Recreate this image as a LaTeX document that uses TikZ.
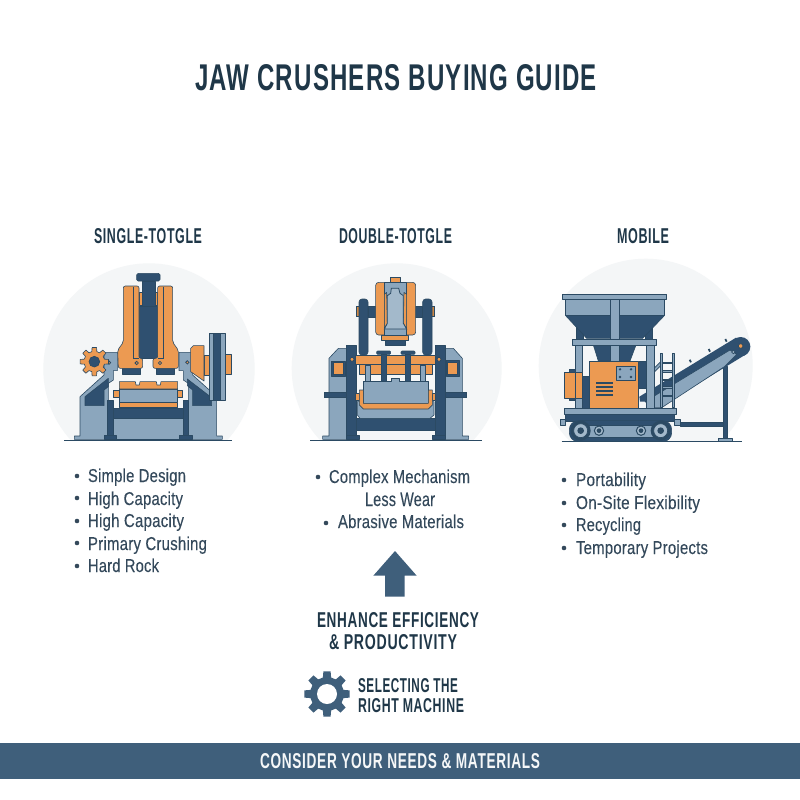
\documentclass[tikz,border=0pt]{standalone}
\usepackage{fontspec}
\usepackage{graphicx}
\setmainfont{Liberation Sans}
\newfontfamily\headf[LetterSpace=5]{Liberation Sans Bold}
\newfontfamily\bodyf[LetterSpace=1.5,FakeBold=0.15]{Liberation Sans}
\definecolor{ink}{HTML}{1F3748}
\definecolor{bodyc}{HTML}{34495B}
\definecolor{barc}{HTML}{3F5F7B}
\definecolor{steel}{HTML}{8BA6BD}
\definecolor{lsteel}{HTML}{A3B9CB}
\definecolor{dkb}{HTML}{2F5070}
\definecolor{orng}{HTML}{EC9A52}
\definecolor{edge}{HTML}{2B4A63}
\definecolor{disc}{HTML}{F4F6F7}
\tikzset{
  st/.style={fill=steel,draw=edge,line width=.6pt,line join=round},
  dk/.style={fill=dkb,draw=edge,line width=.6pt,line join=round},
  og/.style={fill=orng,draw=edge,line width=.6pt,line join=round},
  gnd/.style={draw=edge,line width=1pt},
  hd/.style={inner sep=0pt,outer sep=0pt,anchor=base west,text=ink},
  bd/.style={inner sep=0pt,outer sep=0pt,anchor=base west,text=bodyc},
  dot/.style={fill=bodyc,draw=none},
  zoomA/.style={xshift=30pt,yshift=-255pt,x=.33333pt,y=-.33333pt},
  zoomB/.style={xshift=280pt,yshift=-255pt,x=.33333pt,y=-.33333pt},
  zoomC/.style={xshift=530pt,yshift=-255pt,x=.33333pt,y=-.33333pt},
}
\newcommand{\hfit}[3]{\resizebox{#1pt}{#2pt}{\headf #3}}
\newcommand{\bfit}[2]{\resizebox{#1pt}{13.5pt}{\bodyf #2}}
\newcommand{\mygear}[5]{\begin{scope}[shift={(#2,#3)}]
\path[#1] (-14:#5) \foreach \a in {0,45,...,315}{ -- ({\a-14}:#5) -- ({\a-9}:#4) -- ({\a+9}:#4) -- ({\a+14}:#5)} -- cycle;
\end{scope}}
\begin{document}
\begin{tikzpicture}[x=1pt,y=-1pt]
\useasboundingbox (0,0) rectangle (800,800);
\fill[white] (0,0) rectangle (800,800);
% ---- discs
\begin{scope}
\clip (0,0) rectangle (800,440);
\fill[disc] (149,369) circle (105.7);
\fill[disc] (396.7,368.3) circle (105);
\fill[disc] (645.7,365.7) circle (107);
\end{scope}
% ---- machine 1
\begin{scope}[zoomA]
\path[st] (235,460) rectangle (475,553);
\path[st] (133,553)--(133,543)--(150,543)--(150,425)--(222,360)--(222,292)--(262,292)--(262,347)--(250,347)--(250,375)--(235,385)--(235,553)--cycle;
\path[st] (577,553)--(577,543)--(560,543)--(560,425)--(488,360)--(488,292)--(447,292)--(447,347)--(460,347)--(460,375)--(475,385)--(475,553)--cycle;
\path[dk] (165,425)--(235,370)--(235,395)--(222,405)--(222,452)--(165,452)--cycle;
\path[dk] (545,428)--(472,372)--(472,392)--(488,405)--(488,452)--(545,452)--cycle;
\path[dk] (233,437) rectangle (250,542);
\path[dk] (460,437) rectangle (476,542);
\path[dk] (222,542) rectangle (260,553);
\path[dk] (448,542) rectangle (488,553);
\path[dk] (250,460) rectangle (460,490);
\path[og] (250,405) rectangle (268,428);
\path[og] (443,405) rectangle (458,428);
\path[st] (268,402) rectangle (443,442);
\path[og] (268,442) rectangle (443,458);
\path[og] (268,380)--(316,380)--(318,390)--(328,390)--(330,380)--(379,380)--(381,390)--(391,390)--(393,380)--(443,380)--(443,402)--(268,402)--cycle;
\path[og] (522,300) rectangle (540,362);
\path[og] (586,298) rectangle (604,358);
\path[og] (482,280)--(490,272)--(522,272)--(522,378)--(482,350)--cycle;
\path[st] (538,235) rectangle (586,435);
\path[dk] (550,235) rectangle (572,435);
\path[dk] (278,340) rectangle (332,358);
\path[dk] (380,340) rectangle (432,358);
\path[og] (327,112) rectangle (337,150);
\path[og] (375,112) rectangle (383,150);
\path[dk] (327,155) rectangle (383,310);
\path[dk] (337,78) rectangle (375,155);
\path[dk,rounded corners=1.5pt] (320,55) rectangle (390,78);
\path[og,rounded corners=2pt] (280,262)--(280,93)--(327,93)--(327,310)--(338,310)--(338,340)--(265,340)--(263,285)--cycle;
\path[og,rounded corners=2pt] (428,262)--(428,93)--(383,93)--(383,310)--(369,310)--(369,340)--(445,340)--(445,285)--cycle;
\draw[edge,line width=.6pt] (310,95)--(310,310)--(327,310);
\draw[edge,line width=.6pt] (400,95)--(400,310)--(383,310);
\foreach \p in {(320,324),(390,324),(237,323),(472,322)} \draw[fill=orng,draw=edge,line width=.8pt] \p circle (5);
\mygear{og}{193}{320}{43}{31}
\fill[dkb,draw=edge,line width=.7pt] (193,320) circle (16);
\draw[gnd] (103,555)--(605,555);
\end{scope}
% ---- machine 2
\begin{scope}[zoomB]
\path[st] (128,553)--(128,543)--(147,543)--(147,310)--(175,280)--(205,280)--(205,553)--cycle;
\path[st] (566,553)--(566,543)--(547,543)--(547,310)--(520,280)--(490,280)--(490,553)--cycle;
\path[dk] (155,318) rectangle (195,365);
\path[og] (160,323) rectangle (190,358);
\path[dk] (498,316) rectangle (538,364);
\path[og] (503,322) rectangle (533,358);
\path[dk] (133,412) rectangle (210,428);
\path[dk] (485,412) rectangle (560,428);
\path[dk] (228,490) rectangle (466,525);
\path[dk] (200,270) rectangle (228,541);
\path[dk] (466,270) rectangle (495,541);
\path[dk] (198,541) rectangle (238,553);
\path[dk] (456,541) rectangle (497,553);
\path[fill=brown!70!orng,draw=edge,line width=.7pt] (228,155) rectangle (240,185);
\path[fill=brown!70!orng,draw=edge,line width=.7pt] (453,155) rectangle (463,185);
\path[dk,rounded corners=3pt] (237,300)--(237,132)--(264,132)--(264,300)--cycle;
\path[dk,rounded corners=3pt] (428,300)--(428,132)--(456,132)--(456,300)--cycle;
\path[dk] (264,155) rectangle (290,188);
\path[dk] (405,155) rectangle (428,188);
\path[dk] (315,255) rectangle (375,270);
\path[og] (305,240) rectangle (385,255);
\path[og] (332,67) rectangle (362,82);
\path[og,rounded corners=3pt] (287,82) rectangle (407,240);
\path[st] (313,82)--(380,82)--(380,240)--(313,240)--cycle;
\path[og] (313,118)--(320,112)--(322,205)--(313,222)--cycle;
\path[og] (380,118)--(372,112)--(370,205)--(380,222)--cycle;
\draw[edge,line width=.8pt,fill=lsteel] (322,205)--(322,122)--(332,115)--(334,100)--(356,100)--(360,115)--(370,122)--(370,205)--(380,222)--(313,222)--cycle;
\path[og] (237,328) rectangle (457,358);
\path[og] (225,300) rectangle (467,328);
\path[st] (255,330) rectangle (272,380);
\path[st] (422,330) rectangle (437,380);
\path[dk,rounded corners=1pt] (290,288) rectangle (332,298);
\path[dk,rounded corners=1pt] (363,288) rectangle (405,298);
\path[dk] (303,298) rectangle (320,380);
\path[dk] (375,298) rectangle (390,380);
\path[og] (227,415) rectangle (238,437);
\path[og] (457,415) rectangle (467,437);
\path[st] (232,440)--(462,440)--(462,480)--(450,490)--(240,490)--(232,480)--cycle;
\path[st] (250,380)--(335,380)--(335,370)--(357,370)--(357,380)--(445,380)--(445,445)--(250,445)--cycle;
\path[og] (238,405)--(250,405)--(250,445)--(445,445)--(445,405)--(457,405)--(457,450)--(445,462)--(250,462)--(238,450)--cycle;
\foreach \p in {(216,313),(477,313)} \draw[fill=orng,draw=edge,line width=.8pt] \p circle (6);
\draw[gnd] (90,555)--(605,555);
\end{scope}
% ---- machine 3
\begin{scope}[zoomC]
\path[dk] (451,503) rectangle (582,513);
\path[dk] (580,335) rectangle (592,550);
\path[st] (565,550) rectangle (607,560);
\fill[dkb] (632,275) circle (29);
\path[fill=dkb] (328,425)--(618,248)--(648,298)--(420,438)--(330,440)--cycle;
\path[st] (345,440)--(600,285)--(620,298)--(583,335)--(395,458)--(375,458)--cycle;
\foreach \p in {(483,322),(540,290),(590,260)} \draw[edge,line width=1.8pt] \p -- ++(-4,-8);
\draw[fill=orng,draw=edge,line width=.8pt] (632,273) circle (7);
\draw[fill=lsteel,draw=edge,line width=.7pt] (610,291) circle (5);
\path[dk] (326,320) rectangle (350,400);
\path[dk] (158,365) rectangle (180,460);
\path[dk] (190,270)--(318,270)--(300,318)--(205,318)--cycle;
\draw[st,line width=.7pt] (372,340)--(392,320)--(394,330)--(372,352)--cycle;
\foreach \y in {322,347,372,395,420} \path[st] (392,\y) rectangle (432,\y+4);
\path[st] (390,295) rectangle (396,458);
\path[st] (427,295) rectangle (433,458);
\path[dk] (138,215) rectangle (160,252);
\path[dk] (347,220) rectangle (368,252);
\path[st] (107,132) rectangle (403,182);
\path[dk] (107,182)--(403,182)--(338,250)--(170,250)--cycle;
\path[st] (242,132) rectangle (267,320);
\path[st] (97,117) rectangle (410,132);
\path[st] (135,270) rectangle (158,460);
\path[st] (350,270) rectangle (372,460);
\path[st] (127,252) rectangle (380,270);
\path[dk] (118,342) rectangle (135,352);
\path[dk] (118,430) rectangle (135,435);
\path[og] (103,352) rectangle (135,430);
\path[og] (135,352) rectangle (158,430);
\path[og] (178,318) rectangle (326,460);
\path[st] (258,333) rectangle (316,377);
\foreach \p in {(270,343),(303,343),(270,366),(303,366)} \fill[edge] \p circle (4);
\foreach \y in {384,396,408,420} \fill[edge] (197,\y-2) rectangle (248,\y+2);
\path[st] (90,492) rectangle (107,510);
\path[st] (433,492) rectangle (451,510);
\path[dk] (107,477) rectangle (433,500);
\path[st] (104,460) rectangle (440,477);
\path[dk,rounded corners=9pt] (118,497) rectangle (425,560);
\path[st] (160,510) rectangle (385,548);
\foreach \x in {152,392} {\fill[edge] (\x,527) circle (30); \draw[fill=lsteel,draw=edge,line width=.7pt] (\x,527) circle (21); \fill[edge] (\x,527) circle (10);}
\foreach \x in {207,333} {\draw[fill=lsteel,draw=edge,line width=1pt] (\x,527) circle (14); \fill[edge] (\x,527) circle (7);}
\draw[gnd] (95,560)--(635,560);
\end{scope}
% ---- title + headings
\node[hd] (title) at (195,91) {\hfit{402}{26}{JAW CRUSHERS BUYING GUIDE}};
\node[hd] (h1) at (94,243) {\hfit{108}{15}{SINGLE-TOTGLE}};
\node[hd] (h2) at (339,243) {\hfit{113}{15}{DOUBLE-TOTGLE}};
\node[hd] (h3) at (617,243) {\hfit{52}{15}{MOBILE}};
% ---- left list
\node[bd] (a1) at (88,482) {\bfit{98}{Simple Design}};
\node[bd] (a2) at (88,505) {\bfit{95}{High Capacity}};
\node[bd] (a3) at (88,527) {\bfit{96}{High Capacity}};
\node[bd] (a4) at (88,550) {\bfit{119}{Primary Crushing}};
\node[bd] (a5) at (88,572) {\bfit{71}{Hard Rock}};
\foreach \y in {476,498,521,543,566} \fill[dot] (77,\y) circle (2.3);
% ---- middle list
\node[bd] (b1) at (329,483) {\bfit{141}{Complex Mechanism}};
\node[bd] (b2) at (365,506) {\bfit{70}{Less Wear}};
\node[bd] (b3) at (338,528) {\bfit{126}{Abrasive Materials}};
\fill[dot] (318,477) circle (2.3);
\fill[dot] (326,523) circle (2.3);
% ---- right list
\node[bd] (c1) at (576,486) {\bfit{70}{Portability}};
\node[bd] (c2) at (576,509) {\bfit{124}{On-Site Flexibility}};
\node[bd] (c3) at (576,531) {\bfit{65}{Recycling}};
\node[bd] (c4) at (576,554) {\bfit{132}{Temporary Projects}};
\foreach \y in {480,503,525,548} \fill[dot] (564,\y) circle (2.3);
% ---- arrow
\fill[barc] (395,551)--(416.7,575.7)--(404.7,575.7)--(404.7,596.7)--(385,596.7)--(385,575.7)--(373.3,575.7)--cycle;
\node[hd] (e1) at (317,627) {\hfit{162}{15}{ENHANCE EFFICIENCY}};
\node[hd] (e2) at (329,649) {\hfit{128}{15}{\& PRODUCTIVITY}};
% ---- gear icon
\mygear{fill=barc}{327}{694}{23}{17}
\fill[white] (327,694) circle (10);
\node[hd] (s1) at (358,692) {\hfit{100}{14}{SELECTING THE}};
\node[hd] (s2) at (358,712) {\hfit{106}{14}{RIGHT MACHINE}};
% ---- bar
\fill[barc] (0,743) rectangle (800,779);
\node[hd,text=white!95!barc] (bar) at (260,768) {\hfit{280}{15}{CONSIDER YOUR NEEDS \& MATERIALS}};
\end{tikzpicture}
\end{document}
